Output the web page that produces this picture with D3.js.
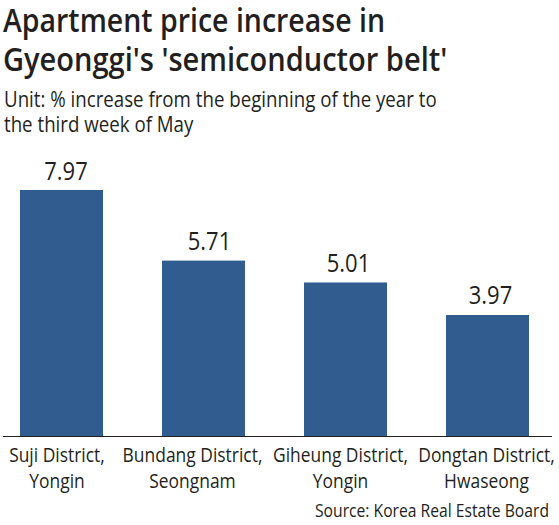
<!DOCTYPE html>
<html><head><meta charset="utf-8">
<script src="https://cdnjs.cloudflare.com/ajax/libs/d3/7.8.5/d3.min.js"></script>
<style>html,body{margin:0;padding:0;background:#fff}svg{display:block}text{font-family:"Open Sans",sans-serif;fill:#231f20}</style>
</head><body><svg id="c" width="559" height="525"></svg>
<script>
const titleLines=["Apartment price increase in","Gyeonggi's 'semiconductor belt'"];
const unitLines=["Unit: % increase from the beginning of the year to","the third week of May"];
const categories=["Suji District,|Yongin","Bundang District,|Seongnam","Giheung District,|Yongin","Dongtan District,|Hwaseong"];
const values=[7.97,5.71,5.01,3.97];
const source="Source: Korea Real Estate Board";
const svg=d3.select("#c");
const x=d3.scaleBand().domain(categories).range([20,529]).paddingInner(0.4155).paddingOuter(0);
const y=d3.scaleLinear().domain([0,7.97]).range([439,190]);
const baseY=436;
const labelNudge=[-4.5,-11,-5,-1];
const valueNudge=[4.5,6,3,3];
function squeeze(sel,f){sel.each(function(d,i){const w=this.getComputedTextLength();const k=typeof f==="function"?f(d,i):f;d3.select(this).attr("textLength",w*k).attr("lengthAdjust","spacingAndGlyphs");});}
svg.selectAll("text.t").data(titleLines).join("text").attr("class","t").attr("x",3).attr("y",(d,i)=>[32,71][i]).attr("font-size",32).attr("font-weight",600).text(d=>d).call(squeeze,(d,i)=>[0.89,0.907][i]);
svg.selectAll("text.u").data(unitLines).join("text").attr("class","u").attr("x",4).attr("y",(d,i)=>[107,132][i]).attr("font-size",21).text(d=>d).call(squeeze,0.89);
svg.selectAll("rect.b").data(values).join("rect").attr("class","b").attr("x",(d,i)=>x(categories[i])).attr("width",x.bandwidth()).attr("y",d=>y(d)).attr("height",d=>baseY-y(d)).attr("fill","#305c8f");
svg.selectAll("text.v").data(values).join("text").attr("class","v").attr("text-anchor","middle").attr("x",(d,i)=>x(categories[i])+x.bandwidth()/2+valueNudge[i]).attr("y",d=>y(d)-10.5).attr("font-size",25).text(d=>d.toFixed(2)).call(squeeze,0.88);
svg.append("line").attr("x1",3).attr("x2",552).attr("y1",436.5).attr("y2",436.5).attr("stroke","#231f20").attr("stroke-width",1.2);
categories.forEach((c,i)=>{c.split("|").forEach((l,j)=>{svg.append("text").attr("text-anchor","middle").attr("x",x(c)+x.bandwidth()/2+labelNudge[i]).attr("y",462+j*25.5).attr("font-size",20.5).text(l).call(squeeze,0.85);});});
svg.append("text").attr("x",549).attr("y",516.5).attr("text-anchor","end").attr("font-size",19).text(source).call(squeeze,0.825);
</script></body></html>
